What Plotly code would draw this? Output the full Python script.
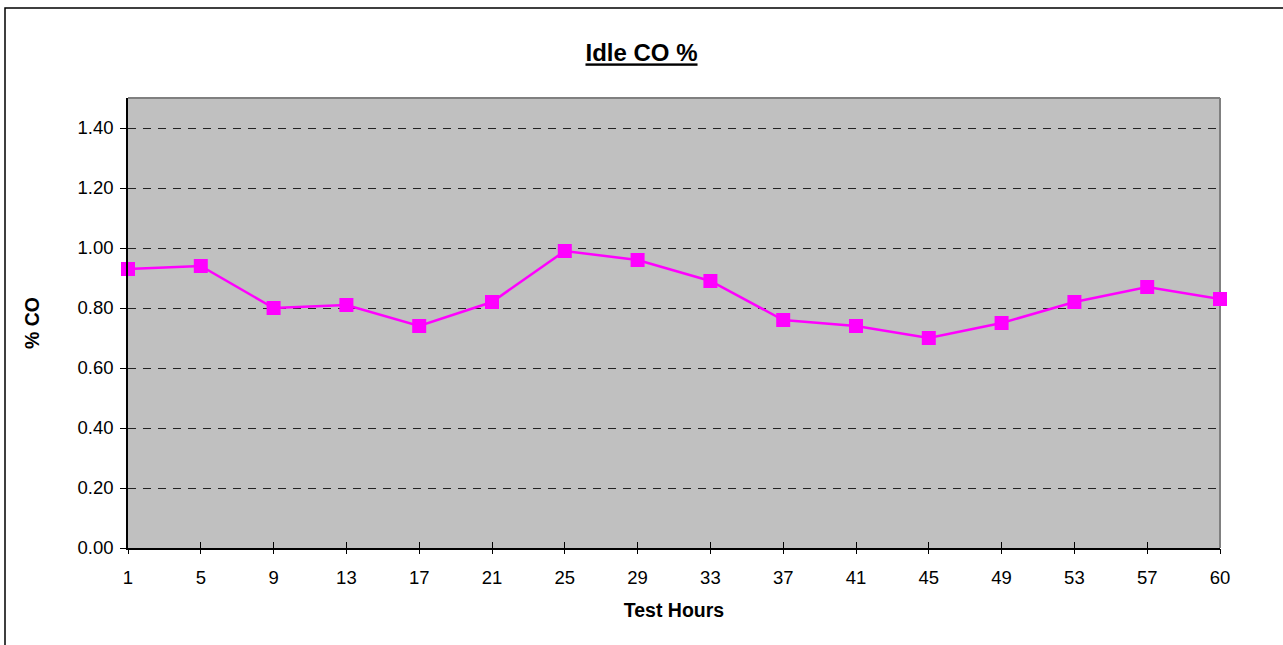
import plotly.graph_objects as go

test_hours = ["1", "5", "9", "13", "17", "21", "25", "29", "33", "37", "41", "45", "49", "53", "57", "60"]
co_pct = [0.93, 0.94, 0.80, 0.81, 0.74, 0.82, 0.99, 0.96, 0.89, 0.76, 0.74, 0.70, 0.75, 0.82, 0.87, 0.83]
y_ticks = [0.0, 0.2, 0.4, 0.6, 0.8, 1.0, 1.2, 1.4]

W, H = 1283, 645
L, R, T, B = 128, 63, 98, 97
pw, ph = W - L - R, H - T - B

xpos = list(range(len(test_hours)))

fig = go.Figure()
fig.add_trace(go.Scatter(
    x=xpos, y=co_pct, mode="lines+markers",
    line=dict(color="#FF00FF", width=2.5),
    marker=dict(symbol="square", size=14, color="#FF00FF"),
    cliponaxis=False, showlegend=False,
))
# invisible trace on overlay axis for outward tick marks
fig.add_trace(go.Scatter(x=[xpos[0]], y=[0], xaxis="x2", mode="markers",
                         marker=dict(opacity=0), showlegend=False, hoverinfo="skip"))

font = "Liberation Sans, Arial, sans-serif"
fig.update_layout(
    width=W, height=H,
    margin=dict(l=L, r=R, t=T, b=B),
    paper_bgcolor="white", plot_bgcolor="#C0C0C0",
    font=dict(family=font, size=18.5, color="black"),
    title=dict(text="<b><u>Idle CO %</u></b>", x=0.5, xanchor="center",
               y=1 - 53 / H, yanchor="middle", font=dict(size=24, family=font)),
    xaxis=dict(
        range=[0, len(test_hours) - 1], tickmode="array", tickvals=xpos, ticktext=test_hours,
        ticks="inside", ticklen=6, tickcolor="black", showgrid=False, zeroline=False,
        showline=True, linecolor="black", linewidth=1.5, ticklabelstandoff=12,
        title=dict(text="<b>Test Hours</b>", font=dict(size=19.5, family=font), standoff=16),
    ),
    xaxis2=dict(
        overlaying="x", side="bottom", range=[0, len(test_hours) - 1],
        tickmode="array", tickvals=xpos, ticks="outside", ticklen=5, tickcolor="black",
        showticklabels=False, showgrid=False, zeroline=False, showline=False,
    ),
    yaxis=dict(
        range=[0, 1.5], tickmode="array", tickvals=y_ticks,
        ticktext=[f"{v:.2f}" for v in y_ticks],
        ticks="outside", ticklen=6, tickcolor="black", ticklabelstandoff=3,
        showgrid=True, gridcolor="#222222", gridwidth=1, griddash="8px,7px",
        zeroline=False, showline=True, linecolor="black", linewidth=1.5,
        title=dict(text="<b>% CO</b>", font=dict(size=19.5, family=font), standoff=33),
    ),
)

# plot area right/top border (gray)
fig.add_shape(type="line", xref="paper", yref="paper", x0=0, x1=1, y0=1, y1=1,
              line=dict(color="#808080", width=2), layer="below")
fig.add_shape(type="line", xref="paper", yref="paper", x0=1, x1=1, y0=0, y1=1,
              line=dict(color="#808080", width=2), layer="below")
# outer chart border
fig.add_shape(type="rect", xref="paper", yref="paper",
              x0=(5 - L) / pw, x1=(1295 - L) / pw,
              y0=1 - (660 - T) / ph, y1=1 - (8 - T) / ph,
              line=dict(color="black", width=1.5), fillcolor="rgba(0,0,0,0)", layer="below")

fig.write_html("out.html", config={"displayModeBar": False},
               post_script="document.body.style.margin='0';")
